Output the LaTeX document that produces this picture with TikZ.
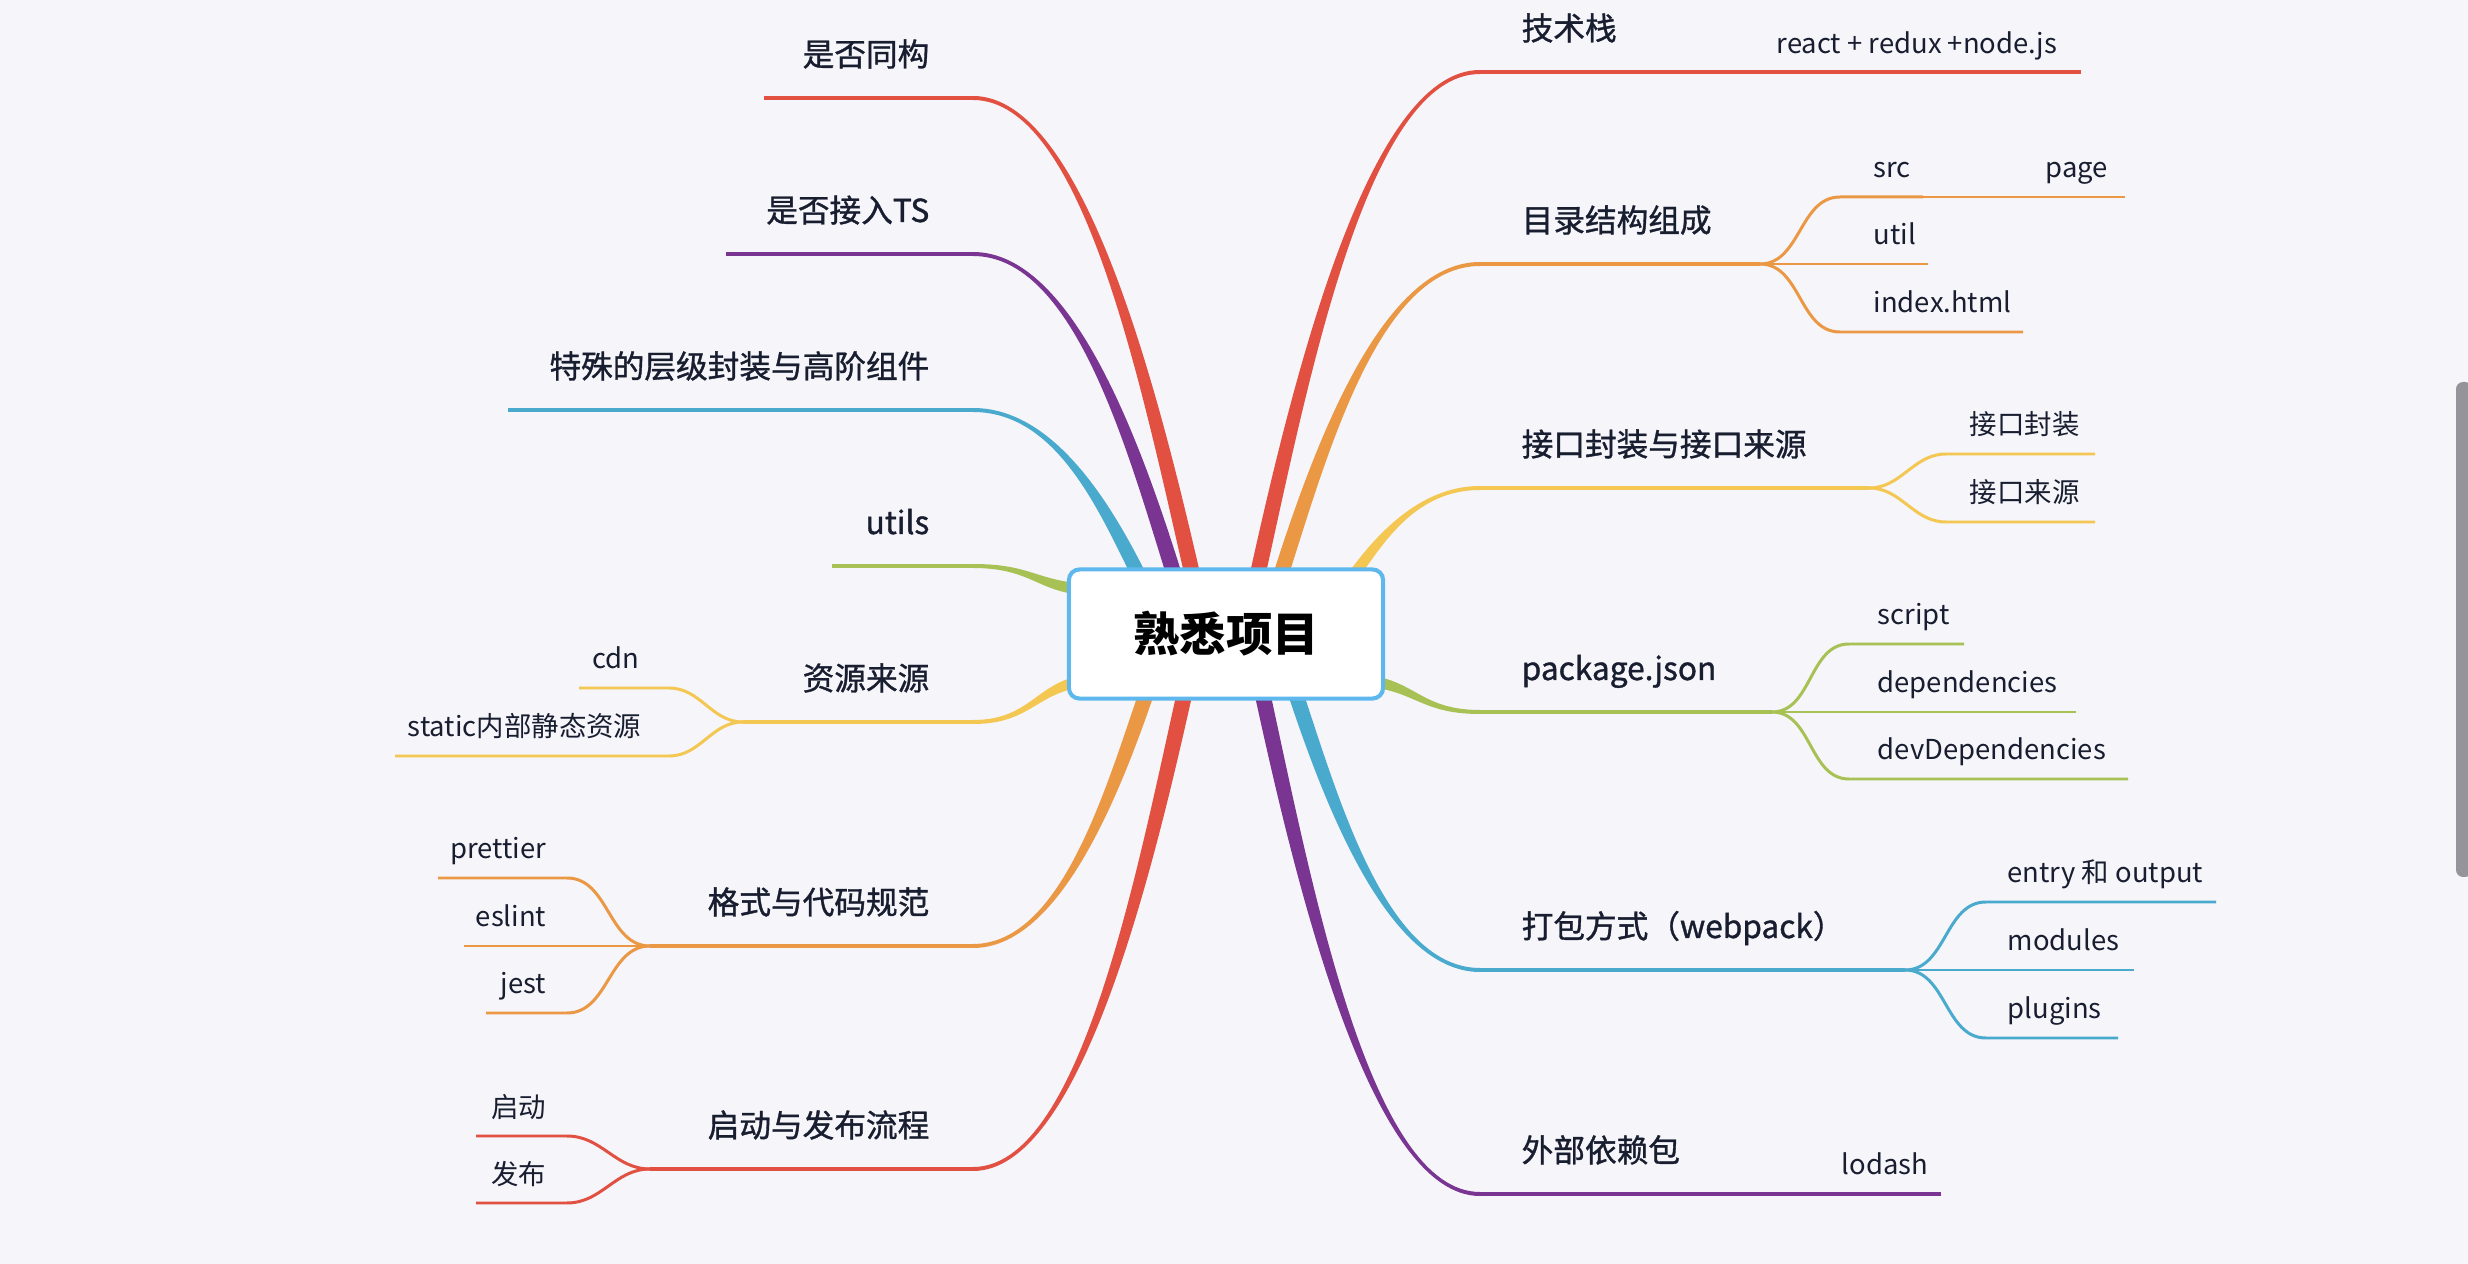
\documentclass[tikz,border=0pt]{standalone}
\usepackage{fontspec}
\setmainfont{Noto Sans CJK SC}
\newfontfamily\topicfont{Noto Sans CJK SC}[FakeBold=1.1]
\usetikzlibrary{calc}
\definecolor{ink}{RGB}{24,30,48}
\definecolor{paper}{RGB}{245,245,250}
\definecolor{brred}{RGB}{225,80,65}
\definecolor{brorange}{RGB}{235,152,68}
\definecolor{bryellow}{RGB}{244,199,82}
\definecolor{brgreen}{RGB}{167,193,84}
\definecolor{brblue}{RGB}{74,170,205}
\definecolor{brpurple}{RGB}{122,52,146}
\definecolor{rootblue}{RGB}{94,184,238}
\definecolor{scroll}{RGB}{150,148,155}

\pgfdeclarelayer{paperlayer}
\pgfdeclarelayer{limblayer}
\pgfsetlayers{paperlayer,limblayer,main}

\tikzset{
  rootbox/.style={draw=rootblue,line width=1.15pt,fill=white,rounded corners=3pt,
    minimum width=3.14cm,minimum height=1.29cm,inner sep=0pt,
    font=\fontsize{13.2}{16}\selectfont\bfseries,text=black},
  topic/.style={font=\topicfont\fontsize{9}{11}\selectfont,text=ink,inner sep=0pt},
  leaf/.style={font=\fontsize{7.8}{10}\selectfont,text=ink,inner sep=0pt},
  trunk/.style={line width=1.15pt},
  twig/.style={line width=0.85pt},
}

% tapered branch leaving the root upwards/downwards
\newcommand\limb[5]{%
  \fill[#1] ($(#2)+#4$)
    .. controls ($(#2)!0.5!(#2|-#3)!0.2!(#3|-#2)+#4$) and ($(#3)!0.5!(#2|-#3)+#5$) .. ($(#3)+#5$)
    -- ($(#3)-#5$)
    .. controls ($(#3)!0.5!(#2|-#3)-#5$) and ($(#2)!0.5!(#2|-#3)!0.2!(#3|-#2)-#4$) .. ($(#2)-#4$)
    -- cycle;}
% tapered branch leaving the root sideways
\newcommand\sidelimb[5]{%
  \fill[#1] ($(#2)+#4$)
    .. controls ($(#2)!0.5!(#3|-#2)+#4$) and ($(#3)!0.5!(#2|-#3)+#5$) .. ($(#3)+#5$)
    -- ($(#3)-#5$)
    .. controls ($(#3)!0.5!(#2|-#3)-#5$) and ($(#2)!0.5!(#3|-#2)-#4$) .. ($(#2)-#4$)
    -- cycle;}

\begin{document}
\begin{tikzpicture}[x=0.01cm,y=-0.01cm]
  \useasboundingbox (0,0) rectangle (2468,1264);
  \begin{pgfonlayer}{paperlayer}
    \fill[paper] (0,0) rectangle (2468,1264);
    \fill[scroll,rounded corners=2pt] (2456,382) rectangle (2472,877);
  \end{pgfonlayer}

  \node[rootbox] (root) at (1226,634) {熟悉项目};

  % where the branches leave the root
  \coordinate (sL3) at ($(root.north)+(-86,10)$);
  \coordinate (sL2) at ($(root.north)+(-51,10)$);
  \coordinate (sL1) at ($(root.north)+(-33,10)$);
  \coordinate (sR1) at ($(root.north)+(31,10)$);
  \coordinate (sR2) at ($(root.north)+(54,10)$);
  \coordinate (sR3) at ($(root.north)+(126,10)$);
  \coordinate (sL6) at ($(root.south)+(-79,-9)$);
  \coordinate (sL7) at ($(root.south)+(-41,-9)$);
  \coordinate (sR6) at ($(root.south)+(36,-9)$);
  \coordinate (sR5) at ($(root.south)+(69,-9)$);
  \coordinate (sL4) at ($(root.center)+(-126,-44)$);
  \coordinate (sL5) at ($(root.center)+(-126,46)$);
  \coordinate (sR4) at ($(root.center)+(124,46)$);

  % right side trunks
  \coordinate (stack) at (1480,72);    \coordinate (stack-f) at (1760,72);
  \coordinate (dirs) at (1480,264);    \coordinate (dirs-f) at (1760,264);
  \coordinate (api) at (1480,488);     \coordinate (api-f) at (1869,488);
  \coordinate (pkg) at (1480,712);     \coordinate (pkg-f) at (1772,712);
  \coordinate (bundle) at (1480,970);  \coordinate (bundle-f) at (1905,970);
  \coordinate (deps) at (1480,1194);   \coordinate (deps-f) at (1760,1194);
  % left side trunks
  \coordinate (iso) at (973,98);       \coordinate (iso-f) at (764,98);
  \coordinate (ts) at (973,254);       \coordinate (ts-f) at (726,254);
  \coordinate (hoc) at (973,410);      \coordinate (hoc-f) at (508,410);
  \coordinate (utils) at (973,566);    \coordinate (utils-f) at (832,566);
  \coordinate (assets) at (973,722);   \coordinate (assets-f) at (743,722);
  \coordinate (lint) at (973,946);     \coordinate (lint-f) at (650,946);
  \coordinate (flow) at (973,1169);    \coordinate (flow-f) at (650,1169);

  \begin{pgfonlayer}{limblayer}
    \limb{brred}{sR1}{stack}{(-8,0)}{(0,-2)}
    \limb{brorange}{sR2}{dirs}{(-8,0)}{(0,-2)}
    \limb{bryellow}{sR3}{api}{(-7,0)}{(0,-2)}
    \sidelimb{brgreen}{sR4}{pkg}{(0,-6)}{(0,-2)}
    \limb{brblue}{sR5}{bundle}{(-8,0)}{(0,2)}
    \limb{brpurple}{sR6}{deps}{(-8,0)}{(0,2)}
    \limb{brred}{sL1}{iso}{(8,0)}{(0,-2)}
    \limb{brpurple}{sL2}{ts}{(8,0)}{(0,-2)}
    \limb{brblue}{sL3}{hoc}{(8,0)}{(0,-2)}
    \sidelimb{brgreen}{sL4}{utils}{(0,-6)}{(0,-2)}
    \sidelimb{bryellow}{sL5}{assets}{(0,-6)}{(0,-2)}
    \limb{brorange}{sL6}{lint}{(8,0)}{(0,2)}
    \limb{brred}{sL7}{flow}{(8,0)}{(0,2)}
  \end{pgfonlayer}

  % leaf line ends
  \coordinate (react-e) at (2081,72);
  \coordinate (src-s) at (1840,197);     \coordinate (src-e) at (1923,197);
  \coordinate (page-e) at (2125,197);
  \coordinate (util-e) at (1928,264);
  \coordinate (index-s) at (1840,332);   \coordinate (index-e) at (2023,332);
  \coordinate (wrap-s) at (1946,454);    \coordinate (wrap-e) at (2095,454);
  \coordinate (from-s) at (1946,522);    \coordinate (from-e) at (2095,522);
  \coordinate (script-s) at (1849,644);  \coordinate (script-e) at (1964,644);
  \coordinate (dep-e) at (2076,712);
  \coordinate (devdep-s) at (1849,779);  \coordinate (devdep-e) at (2128,779);
  \coordinate (entry-s) at (1986,902);   \coordinate (entry-e) at (2216,902);
  \coordinate (modules-e) at (2134,970);
  \coordinate (plugins-s) at (1986,1038); \coordinate (plugins-e) at (2118,1038);
  \coordinate (lodash-e) at (1941,1194);
  \coordinate (cdn-s) at (669,688);      \coordinate (cdn-e) at (579,688);
  \coordinate (static-s) at (669,756);   \coordinate (static-e) at (395,756);
  \coordinate (prettier-s) at (567,878); \coordinate (prettier-e) at (438,878);
  \coordinate (eslint-e) at (464,946);
  \coordinate (jest-s) at (567,1013);    \coordinate (jest-e) at (486,1013);
  \coordinate (start-s) at (567,1136);   \coordinate (start-e) at (476,1136);
  \coordinate (publish-s) at (567,1203); \coordinate (publish-e) at (476,1203);

  % right side lines
  \draw[trunk,brred] (stack) -- (stack-f) -- (react-e);
  \draw[trunk,brorange] (dirs) -- (dirs-f);
  \draw[twig,brorange] (dirs-f) to[out=0,in=180] (src-s) -- (src-e);
  \draw[brorange,line width=0.6pt] (src-e) -- (page-e);
  \draw[twig,brorange] (dirs-f) -- (util-e);
  \draw[twig,brorange] (dirs-f) to[out=0,in=180] (index-s) -- (index-e);
  \draw[trunk,bryellow] (api) -- (api-f);
  \draw[twig,bryellow] (api-f) to[out=0,in=180] (wrap-s) -- (wrap-e);
  \draw[twig,bryellow] (api-f) to[out=0,in=180] (from-s) -- (from-e);
  \draw[trunk,brgreen] (pkg) -- (pkg-f);
  \draw[twig,brgreen] (pkg-f) to[out=0,in=180] (script-s) -- (script-e);
  \draw[twig,brgreen] (pkg-f) -- (dep-e);
  \draw[twig,brgreen] (pkg-f) to[out=0,in=180] (devdep-s) -- (devdep-e);
  \draw[trunk,brblue] (bundle) -- (bundle-f);
  \draw[twig,brblue] (bundle-f) to[out=0,in=180] (entry-s) -- (entry-e);
  \draw[twig,brblue] (bundle-f) -- (modules-e);
  \draw[twig,brblue] (bundle-f) to[out=0,in=180] (plugins-s) -- (plugins-e);
  \draw[trunk,brpurple] (deps) -- (deps-f) -- (lodash-e);

  % left side lines
  \draw[trunk,brred] (iso) -- (iso-f);
  \draw[trunk,brpurple] (ts) -- (ts-f);
  \draw[trunk,brblue] (hoc) -- (hoc-f);
  \draw[trunk,brgreen] (utils) -- (utils-f);
  \draw[trunk,bryellow] (assets) -- (assets-f);
  \draw[twig,bryellow] (assets-f) to[out=180,in=0] (cdn-s) -- (cdn-e);
  \draw[twig,bryellow] (assets-f) to[out=180,in=0] (static-s) -- (static-e);
  \draw[trunk,brorange] (lint) -- (lint-f);
  \draw[twig,brorange] (lint-f) to[out=180,in=0] (prettier-s) -- (prettier-e);
  \draw[twig,brorange] (lint-f) -- (eslint-e);
  \draw[twig,brorange] (lint-f) to[out=180,in=0] (jest-s) -- (jest-e);
  \draw[trunk,brred] (flow) -- (flow-f);
  \draw[twig,brred] (flow-f) to[out=180,in=0] (start-s) -- (start-e);
  \draw[twig,brred] (flow-f) to[out=180,in=0] (publish-s) -- (publish-e);

  % topic texts
  \node[topic,anchor=base west] (t-stack) at (1521,40) {技术栈};
  \node[topic,anchor=base west] (t-dirs) at (1521,232) {目录结构组成};
  \node[topic,anchor=base west] (t-api) at (1521,456) {接口封装与接口来源};
  \node[topic,anchor=base west] (t-pkg) at (1521,680) {package.json};
  \node[topic,anchor=base west] (t-bundle) at (1521,938) {打包方式（webpack）};
  \node[topic,anchor=base west] (t-deps) at (1521,1162) {外部依赖包};
  \node[topic,anchor=base east] (t-iso) at (930,66) {是否同构};
  \node[topic,anchor=base east] (t-ts) at (930,222) {是否接入TS};
  \node[topic,anchor=base east] (t-hoc) at (930,378) {特殊的层级封装与高阶组件};
  \node[topic,anchor=base east] (t-utils) at (930,534) {utils};
  \node[topic,anchor=base east] (t-assets) at (930,690) {资源来源};
  \node[topic,anchor=base east] (t-lint) at (930,914) {格式与代码规范};
  \node[topic,anchor=base east] (t-flow) at (930,1137) {启动与发布流程};

  % leaf texts
  \node[leaf,anchor=base west] (l-react) at (1776,54) {react + redux +node.js};
  \node[leaf,anchor=base west] (l-src) at (1873,178) {src};
  \node[leaf,anchor=base west] (l-page) at (2045,178) {page};
  \node[leaf,anchor=base west] (l-util) at (1873,245) {util};
  \node[leaf,anchor=base west] (l-index) at (1873,313) {index.html};
  \node[leaf,anchor=base west] (l-wrap) at (1969,435) {接口封装};
  \node[leaf,anchor=base west] (l-from) at (1969,503) {接口来源};
  \node[leaf,anchor=base west] (l-script) at (1877,625) {script};
  \node[leaf,anchor=base west] (l-dep) at (1877,693) {dependencies};
  \node[leaf,anchor=base west] (l-devdep) at (1877,760) {devDependencies};
  \node[leaf,anchor=base west] (l-entry) at (2007,883) {entry 和 output};
  \node[leaf,anchor=base west] (l-modules) at (2007,951) {modules};
  \node[leaf,anchor=base west] (l-plugins) at (2007,1019) {plugins};
  \node[leaf,anchor=base west] (l-lodash) at (1841,1175) {lodash};
  \node[leaf,anchor=base east] (l-cdn) at (640,669) {cdn};
  \node[leaf,anchor=base east] (l-static) at (642,737) {static内部静态资源};
  \node[leaf,anchor=base east] (l-prettier) at (547,859) {prettier};
  \node[leaf,anchor=base east] (l-eslint) at (547,927) {eslint};
  \node[leaf,anchor=base east] (l-jest) at (547,994) {jest};
  \node[leaf,anchor=base east] (l-start) at (547,1117) {启动};
  \node[leaf,anchor=base east] (l-publish) at (547,1184) {发布};
\end{tikzpicture}
\end{document}
